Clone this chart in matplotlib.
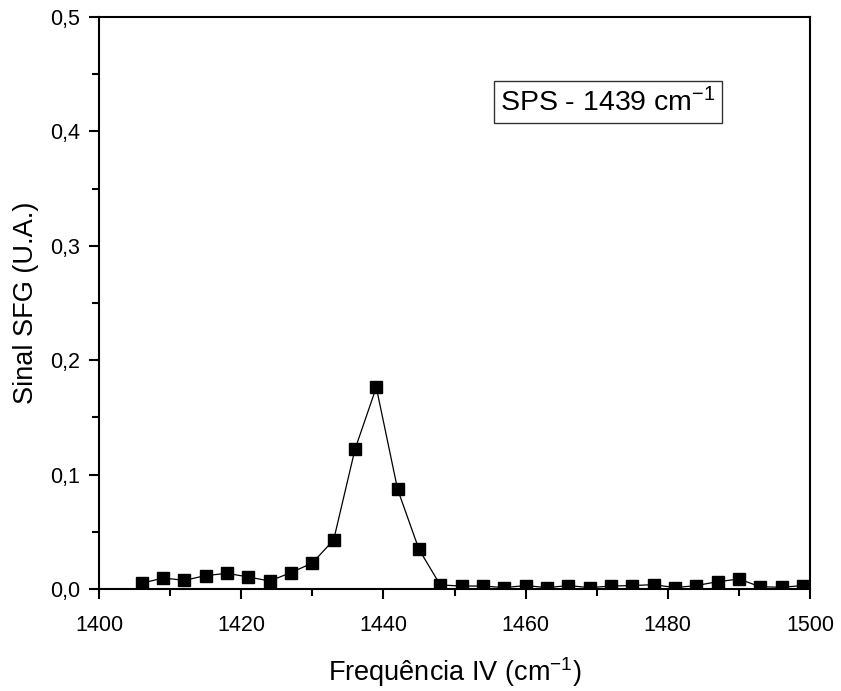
import matplotlib
matplotlib.use("Agg")
import matplotlib.pyplot as plt
from matplotlib.ticker import MultipleLocator, FuncFormatter

plt.rcParams['font.family'] = ['Liberation Sans', 'DejaVu Sans']
plt.rcParams['mathtext.fontset'] = 'custom'
plt.rcParams['mathtext.rm'] = 'Liberation Sans'
plt.rcParams['mathtext.default'] = 'regular'

# IR frequency (cm^-1) and SFG signal (a.u.)
freq = [1406, 1409, 1412, 1415, 1418, 1421, 1424, 1427, 1430, 1433,
        1436, 1439, 1442, 1445, 1448, 1451, 1454, 1457, 1460, 1463,
        1466, 1469, 1472, 1475, 1478, 1481, 1484, 1487, 1490, 1493,
        1496, 1499]
signal = [0.0050, 0.0096, 0.0076, 0.0117, 0.0137, 0.0105, 0.0070, 0.0143,
          0.0227, 0.0428, 0.1220, 0.1763, 0.0871, 0.0347, 0.0035, 0.0026,
          0.0026, 0.0012, 0.0030, 0.0012, 0.0030, 0.0012, 0.0026, 0.0030,
          0.0038, 0.0012, 0.0030, 0.0064, 0.0087, 0.0020, 0.0015, 0.0030]

fig = plt.figure(figsize=(8.41, 6.91), dpi=100)
ax = fig.add_axes([99 / 841, 1 - 589 / 691, (810 - 99) / 841, (589 - 17) / 691])

ax.plot(freq, signal, color='black', linewidth=0.9, marker='s',
        markersize=8, markerfacecolor='black', markeredgecolor='black')

ax.set_xlim(1400, 1500)
ax.set_ylim(0, 0.5)

ax.xaxis.set_major_locator(MultipleLocator(20))
ax.xaxis.set_minor_locator(MultipleLocator(10))
ax.yaxis.set_major_locator(MultipleLocator(0.1))
ax.yaxis.set_minor_locator(MultipleLocator(0.05))
ax.yaxis.set_major_formatter(FuncFormatter(lambda v, p: f"{v:.1f}".replace('.', ',')))

ax.tick_params(which='major', direction='out', length=7.5, width=1.5,
               labelsize=15.5, top=False, right=False)
ax.tick_params(axis='x', which='major', pad=11)
ax.tick_params(axis='y', which='major', pad=6)
ax.tick_params(which='minor', direction='out', length=5, width=1.5,
               top=False, right=False)
for s in ax.spines.values():
    s.set_linewidth(1.5)

ax.set_xlabel('Frequência IV (cm$^{-1}$)', fontsize=19.5, labelpad=14)
ax.set_ylabel('Sinal SFG (U.A.)', fontsize=19.5, labelpad=8)

ax.text(0.716, 0.851, 'SPS - 1439 cm$^{-1}$', transform=ax.transAxes,
        fontsize=20.5, ha='center', va='center',
        bbox=dict(boxstyle='square,pad=0.22', facecolor='white',
                  edgecolor='#333333', linewidth=1.0))

fig.savefig('out.png', dpi=100)
